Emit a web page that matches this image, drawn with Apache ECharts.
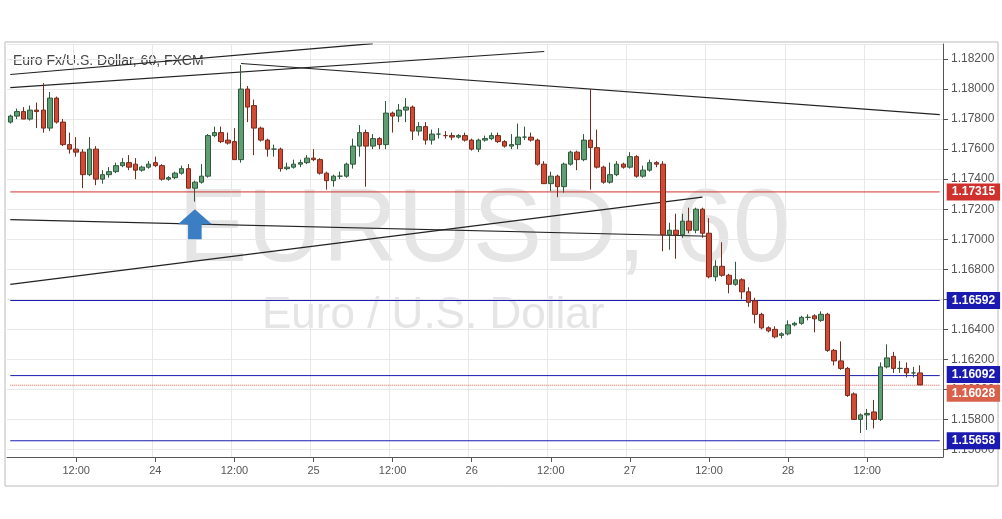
<!DOCTYPE html>
<html><head><meta charset="utf-8">
<script src="https://cdn.jsdelivr.net/npm/echarts@6/dist/echarts.min.js"></script>
<style>html,body{margin:0;padding:0;background:#fff}#c{width:1002px;height:519px}</style>
</head><body><div id="c"></div>
<script>
// OHLC: [open, close, low, high]
const ohlc = [
[1.1778,1.1782,1.1777,1.1783],[1.1782,1.1785,1.1780,1.1787],[1.1785,1.1780,1.1780,1.1788],[1.1780,1.1786,1.1779,1.1789],
[1.1786,1.1785,1.1774,1.1791],[1.1786,1.1774,1.1771,1.1804],[1.1774,1.1794,1.1772,1.1798],[1.1794,1.1778,1.1777,1.1795],
[1.1778,1.1763,1.1762,1.1780],[1.1763,1.1760,1.1757,1.1771],[1.1760,1.1758,1.1755,1.1768],[1.1758,1.1743,1.1734,1.1760],
[1.1743,1.1760,1.1742,1.1768],[1.1760,1.1740,1.1736,1.1762],[1.1740,1.1743,1.1737,1.1746],[1.1743,1.1745,1.1741,1.1748],
[1.1745,1.1749,1.1744,1.1751],[1.1749,1.1751,1.1748,1.1754],[1.1751,1.1748,1.1746,1.1756],[1.1750,1.1746,1.1740,1.1754],
[1.1746,1.1748,1.1745,1.1749],[1.1748,1.1750,1.1747,1.1752],[1.1751,1.1749,1.1748,1.1755],[1.1749,1.1740,1.1739,1.1750],
[1.1740,1.1741,1.1739,1.1742],[1.1741,1.1744,1.1740,1.1745],[1.1744,1.1747,1.1743,1.1749],[1.1747,1.1734,1.1734,1.1750],
[1.1734,1.1738,1.1725,1.1739],[1.1738,1.1742,1.1737,1.1750],[1.1742,1.1769,1.1741,1.1770],[1.1769,1.1771,1.1768,1.1775],
[1.1771,1.1765,1.1764,1.1775],[1.1766,1.1764,1.1763,1.1771],[1.1765,1.1753,1.1753,1.1774],[1.1753,1.1800,1.1751,1.1816],
[1.1800,1.1788,1.1778,1.1802],[1.1789,1.1774,1.1756,1.1793],[1.1774,1.1766,1.1765,1.1775],[1.1766,1.1760,1.1755,1.1767],
[1.1760,1.1760,1.1755,1.1763],[1.1760,1.1747,1.1745,1.1761],[1.1747,1.1748,1.1746,1.1751],[1.1748,1.1750,1.1747,1.1753],
[1.1750,1.1751,1.1748,1.1753],[1.1751,1.1754,1.1750,1.1756],[1.1754,1.1753,1.1752,1.1760],[1.1753,1.1744,1.1743,1.1754],
[1.1744,1.1739,1.1733,1.1745],[1.1739,1.1742,1.1735,1.1743],[1.1742,1.1742,1.1740,1.1745],[1.1742,1.1750,1.1741,1.1751],
[1.1750,1.1762,1.1747,1.1767],[1.1762,1.1771,1.1755,1.1776],[1.1771,1.1762,1.1735,1.1773],[1.1762,1.1767,1.1760,1.1770],
[1.1767,1.1763,1.1760,1.1768],[1.1763,1.1784,1.1760,1.1792],[1.1784,1.1782,1.1771,1.1785],[1.1782,1.1786,1.1778,1.1790],
[1.1786,1.1788,1.1778,1.1794],[1.1788,1.1772,1.1766,1.1789],[1.1772,1.1775,1.1769,1.1778],[1.1775,1.1766,1.1763,1.1778],
[1.1766,1.1770,1.1763,1.1773],[1.1770,1.1770,1.1767,1.1774],[1.1769,1.1769,1.1767,1.1772],[1.1769,1.1768,1.1766,1.1771],
[1.1768,1.1769,1.1767,1.1770],[1.1769,1.1766,1.1765,1.1771],[1.1766,1.1760,1.1759,1.1767],[1.1760,1.1766,1.1758,1.1767],
[1.1766,1.1767,1.1765,1.1769],[1.1767,1.1769,1.1766,1.1771],[1.1769,1.1765,1.1764,1.1771],[1.1765,1.1762,1.1761,1.1766],
[1.1762,1.1763,1.1760,1.1770],[1.1763,1.1768,1.1760,1.1777],[1.1768,1.1768,1.1766,1.1775],[1.1768,1.1766,1.1765,1.1771],
[1.1766,1.1750,1.1749,1.1767],[1.1750,1.1737,1.1737,1.1752],[1.1737,1.1742,1.1732,1.1745],[1.1742,1.1735,1.1728,1.1743],
[1.1735,1.1750,1.1731,1.1751],[1.1750,1.1758,1.1749,1.1759],[1.1758,1.1753,1.1746,1.1759],[1.1753,1.1766,1.1752,1.1770],
[1.1766,1.1761,1.1733,1.1800],[1.1761,1.1748,1.1747,1.1773],[1.1748,1.1738,1.1737,1.1749],[1.1738,1.1743,1.1737,1.1751],
[1.1743,1.1750,1.1742,1.1752],[1.1750,1.1748,1.1747,1.1751],[1.1748,1.1755,1.1747,1.1758],[1.1755,1.1742,1.1741,1.1756],
[1.1742,1.1746,1.1741,1.1749],[1.1746,1.1751,1.1745,1.1753],[1.1751,1.1750,1.1748,1.1752],[1.1750,1.1703,1.1692,1.1752],
[1.1703,1.1706,1.1693,1.1711],[1.1706,1.1703,1.1687,1.1717],[1.1703,1.1712,1.1701,1.1717],[1.1712,1.1706,1.1704,1.1721],
[1.1706,1.1720,1.1704,1.1721],[1.1720,1.1704,1.1701,1.1721],[1.1704,1.1675,1.1674,1.1714],[1.1675,1.1682,1.1672,1.1686],
[1.1682,1.1676,1.1675,1.1698],[1.1676,1.1670,1.1664,1.1677],[1.1670,1.1673,1.1669,1.1685],[1.1673,1.1665,1.1660,1.1674],
[1.1665,1.1658,1.1655,1.1668],[1.1659,1.1650,1.1644,1.1661],[1.1650,1.1641,1.1640,1.1651],[1.1641,1.1639,1.1638,1.1642],
[1.1640,1.1635,1.1634,1.1642],[1.1636,1.1637,1.1634,1.1638],[1.1637,1.1643,1.1636,1.1646],[1.1643,1.1644,1.1642,1.1645],
[1.1644,1.1648,1.1643,1.1649],[1.1648,1.1648,1.1646,1.1650],[1.1649,1.1647,1.1638,1.1650],[1.1646,1.1650,1.1645,1.1652],
[1.1650,1.1626,1.1625,1.1651],[1.1626,1.1619,1.1616,1.1627],[1.1619,1.1614,1.1613,1.1632],[1.1614,1.1596,1.1595,1.1615],
[1.1597,1.1580,1.1580,1.1598],[1.1580,1.1583,1.1571,1.1584],[1.1583,1.1584,1.1573,1.1587],[1.1585,1.1580,1.1574,1.1593],
[1.1580,1.1615,1.1579,1.1618],[1.1615,1.1621,1.1614,1.1630],[1.1622,1.1614,1.1611,1.1625],[1.1614,1.1614,1.1611,1.1619],
[1.1614,1.1611,1.1608,1.1618],[1.1611,1.1611,1.1608,1.1615],[1.1611,1.1603,1.1603,1.1616]
];
const startDay = 23, startHour = 2, padBars = 3;
const levelValues = [1.17315, 1.16592, 1.16092, 1.15658, 1.16028];
const levelColors = ['#d0312d', '#1a1ab0', '#1a1ab0', '#1a1ab0', '#d9604a'];
const levelTypes = ['solid', 'solid', 'solid', 'solid', 'dotted'];
const levelLabelShift = [0, 0, -1, 0, 8];
// trend lines: [[index, price],[index, price]]
const trendLines = [
  [[0,1.18097],[55,1.18303]],
  [[0,1.18010],[81,1.18250]],
  [[35,1.18170],[141,1.17830]],
  [[0,1.17130],[106,1.17020]],
  [[0,1.16700],[105,1.17280]]
];
const arrowAt = [28, 1.1710];

const cats = [];
for (let i = 0; i < ohlc.length + padBars; i++) {
  const t = startHour + i;
  cats.push({day: startDay + Math.floor(t/24), hour: t % 24});
}
const catLabels = cats.map(c => c.day + ' ' + String(c.hour).padStart(2,'0') + ':00');
const lastIdx = catLabels.length - 1;

const levelSeries = levelValues.map((v, k) => ({
  type:'line', silent:true, symbol:'none', z:3,
  data:[[0, v], [lastIdx, v]],
  lineStyle:{color:levelColors[k], type:levelTypes[k], width:1},
  endLabel:{show:true, formatter:v.toFixed(5), color:'#fff', backgroundColor:levelColors[k],
    fontWeight:'bold', fontSize:12, fontFamily:'Liberation Sans', padding:[3,5,2,5], distance:7,
    offset:[0, levelLabelShift[k]]}
}));
const trendSeries = trendLines.map(t => ({
  type:'line', silent:true, symbol:'none', z:3, clip:true,
  data:[t[0], t[1]], lineStyle:{color:'#222', width:1.2}
}));

const chart = echarts.init(document.getElementById('c'));
chart.setOption({
  animation:false,
  grid:{left:7, right:59, top:44, bottom:62},
  graphic:[
    {type:'rect', shape:{x:5, y:42, width:993, height:444}, style:{fill:'none', stroke:'#bbb', lineWidth:1}, z:-1},
    {type:'text', left:178, top:180, z:-1, style:{text:'EURUSD, 60', fontSize:104, fill:'#e5e5e5', fontFamily:'Liberation Sans'}},
    {type:'text', left:262, top:294, z:-1, style:{text:'Euro / U.S. Dollar', fontSize:44, fill:'#e5e5e5', fontFamily:'Liberation Sans'}},
    {type:'text', left:13, top:54, style:{text:'Euro Fx/U.S. Dollar, 60, FXCM', fontSize:14, fill:'#444', fontFamily:'Liberation Sans'}}
  ],
  xAxis:{type:'category', data:catLabels, boundaryGap:true,
    axisLine:{lineStyle:{color:'#555'}}, axisTick:{show:true, interval:(i)=>cats[i].hour%12===0, lineStyle:{color:'#555'}, alignWithLabel:true},
    axisLabel:{interval:(i)=>cats[i].hour%12===0, color:'#555', fontSize:11, fontFamily:'Liberation Sans', margin:8,
      formatter:(v,i)=>cats[i].hour===0? String(cats[i].day) : '12:00'},
    splitLine:{show:true, interval:(i)=>cats[i].hour%12===0, lineStyle:{color:'#e8e8e8'}}},
  yAxis:{type:'value', position:'right', min:1.1555, max:1.1830, splitNumber:14, scale:true,
    axisLine:{show:true, lineStyle:{color:'#555'}}, axisTick:{show:true, lineStyle:{color:'#555'}},
    axisLabel:{color:'#555', fontSize:12, fontFamily:'Liberation Sans', formatter:v=>v.toFixed(5), showMinLabel:false, showMaxLabel:false},
    splitLine:{lineStyle:{color:'#e8e8e8'}}},
  series:[{type:'candlestick', data:ohlc, barWidth:5, z:4,
    itemStyle:{color:'#5f9e74', color0:'#d04a35', borderColor:'#2e5a3c', borderColor0:'#7a2a1c', borderWidth:1},
    markPoint:{data:[{coord:arrowAt, symbol:'path://M10,0 L20,10 L14,10 L14,20 L6,20 L6,10 L0,10 Z', symbolSize:[34,30],
      itemStyle:{color:'#3b7ec4'}, label:{show:false}}]}
  }].concat(trendSeries).concat(levelSeries)
});
</script></body></html>
